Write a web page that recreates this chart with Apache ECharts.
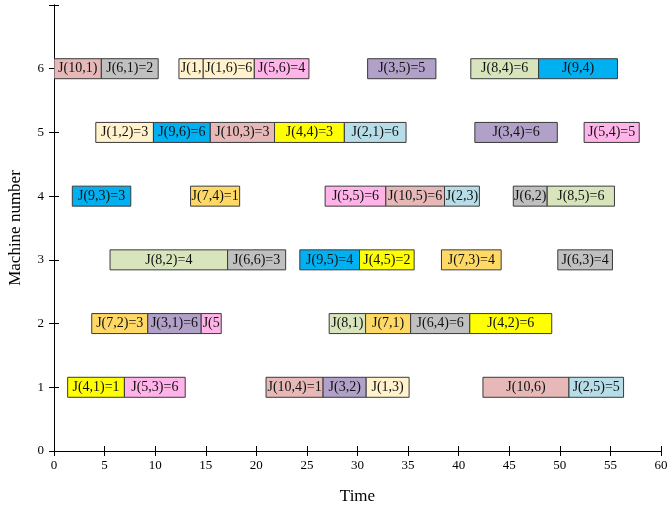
<!DOCTYPE html>
<html>
<head>
<meta charset="utf-8">
<script src="https://cdn.jsdelivr.net/npm/echarts@6/dist/echarts.min.js"></script>
<style>
  html, body { margin: 0; padding: 0; background: #fff; }
  #chart { width: 668px; height: 506px; }
</style>
</head>
<body>
<div id="chart"></div>
<script>
// Schedule of operations: machine, start time, end time, label, job number
const machines = [6, 6, 6, 6, 6, 6, 6, 6,
                  5, 5, 5, 5, 5, 5, 5,
                  4, 4, 4, 4, 4, 4, 4,
                  3, 3, 3, 3, 3, 3,
                  2, 2, 2, 2, 2, 2, 2,
                  1, 1, 1, 1, 1, 1, 1];
const starts = [0, 4.68, 12.35, 14.75, 19.8, 31.0, 41.2, 47.9,
                4.13, 9.83, 15.45, 21.8, 28.7, 41.6, 52.4,
                1.81, 13.5, 26.8, 32.8, 38.6, 45.4, 48.75,
                5.54, 17.16, 24.3, 30.2, 38.3, 49.8,
                3.73, 9.27, 14.55, 27.2, 30.8, 35.25, 41.1,
                1.35, 6.96, 20.96, 26.6, 30.86, 42.4, 50.9];
const ends = [4.68, 10.3, 14.75, 19.8, 25.2, 37.75, 47.9, 55.7,
              9.83, 15.45, 21.8, 28.7, 34.8, 49.75, 57.85,
              7.59, 18.35, 32.8, 38.6, 42.05, 48.75, 55.4,
              17.16, 22.9, 30.2, 35.6, 44.2, 55.2,
              9.27, 14.55, 16.53, 30.8, 35.25, 41.1, 49.2,
              6.96, 12.97, 26.6, 30.86, 35.1, 50.9, 56.3];
const labels = ['J(10,1)', 'J(6,1)=2', 'J(1,5)', 'J(1,6)=6', 'J(5,6)=4', 'J(3,5)=5', 'J(8,4)=6', 'J(9,4)',
                'J(1,2)=3', 'J(9,6)=6', 'J(10,3)=3', 'J(4,4)=3', 'J(2,1)=6', 'J(3,4)=6', 'J(5,4)=5',
                'J(9,3)=3', 'J(7,4)=1', 'J(5,5)=6', 'J(10,5)=6', 'J(2,3)', 'J(6,2)', 'J(8,5)=6',
                'J(8,2)=4', 'J(6,6)=3', 'J(9,5)=4', 'J(4,5)=2', 'J(7,3)=4', 'J(6,3)=4',
                'J(7,2)=3', 'J(3,1)=6', 'J(5,2)', 'J(8,1)', 'J(7,1)', 'J(6,4)=6', 'J(4,2)=6',
                'J(4,1)=1', 'J(5,3)=6', 'J(10,4)=1', 'J(3,2)', 'J(1,3)', 'J(10,6)', 'J(2,5)=5'];
const jobs = [10, 6, 1, 1, 5, 3, 8, 9,
              1, 9, 10, 4, 2, 3, 5,
              9, 7, 5, 10, 2, 6, 8,
              8, 6, 9, 4, 7, 6,
              7, 3, 5, 8, 7, 6, 4,
              4, 5, 10, 3, 1, 10, 2];

// Fill colour per job (index = job number - 1)
const jobColors = ['#FFF2CC', '#B7DEE8', '#B1A0C7', '#FFFF00', '#FFB3E8',
                   '#C0C0C0', '#FFD966', '#D8E4BC', '#00B0F0', '#E6B8B7'];

const xTicks = { min: 0, max: 60, interval: 5 };
const yTicks = { min: 0, max: 7, interval: 1 };

const data = machines.map((m, i) => [starts[i], ends[i], m, labels[i], jobs[i]]);

const serif = '"Liberation Serif", "Times New Roman", serif';

const chart = echarts.init(document.getElementById('chart'), null, { renderer: 'canvas' });

function renderBar(params, api) {
  const s = api.coord([api.value(0), api.value(2)]);
  const e = api.coord([api.value(1), api.value(2)]);
  const h = 20;
  const w = e[0] - s[0];
  const job = api.value(4);
  return {
    type: 'rect',
    shape: { x: s[0], y: s[1] - h / 2, width: w, height: h },
    style: { fill: jobColors[job - 1], stroke: '#3a3a3a', lineWidth: 1 },
    textContent: {
      style: {
        text: api.value(3),
        font: '14px ' + serif,
        fill: '#111',
        width: w + 3,
        overflow: 'truncate',
        ellipsis: ''
      }
    },
    textConfig: { position: 'inside' }
  };
}

const axisCommon = {
  axisLine: { show: true, lineStyle: { color: '#000', width: 1 } },
  axisTick: { show: true, inside: true, length: 5, lineStyle: { color: '#000' } },
  splitLine: { show: false }
};

chart.setOption({
  animation: false,
  grid: { left: 54, right: 7, top: 5, bottom: 55, outerBoundsMode: 'none' },
  xAxis: [
    Object.assign({
      type: 'value', min: xTicks.min, max: xTicks.max, interval: xTicks.interval,
      position: 'bottom',
      name: 'Time', nameLocation: 'middle', nameGap: 37,
      nameTextStyle: { fontFamily: serif, fontSize: 17, color: '#000' },
      axisLabel: { fontFamily: serif, fontSize: 13, color: '#000', margin: 8 }
    }, axisCommon),
    Object.assign({
      type: 'value', min: xTicks.min, max: xTicks.max, interval: xTicks.interval,
      position: 'top', axisLabel: { show: false }
    }, axisCommon)
  ],
  yAxis: [
    Object.assign({
      type: 'value', min: yTicks.min, max: yTicks.max, interval: yTicks.interval,
      position: 'left',
      name: 'Machine number', nameLocation: 'middle', nameGap: 30,
      nameTextStyle: { fontFamily: serif, fontSize: 17, color: '#000' },
      axisLabel: {
        fontFamily: serif, fontSize: 13, color: '#000', margin: 10,
        formatter: v => (v >= yTicks.max ? '' : String(v))
      }
    }, axisCommon),
    Object.assign({
      type: 'value', min: yTicks.min, max: yTicks.max, interval: yTicks.interval,
      position: 'right', axisLabel: { show: false }
    }, axisCommon)
  ],
  series: [{
    type: 'custom',
    renderItem: renderBar,
    encode: { x: [0, 1], y: 2 },
    data: data,
    clip: true
  }]
});
</script>
</body>
</html>
